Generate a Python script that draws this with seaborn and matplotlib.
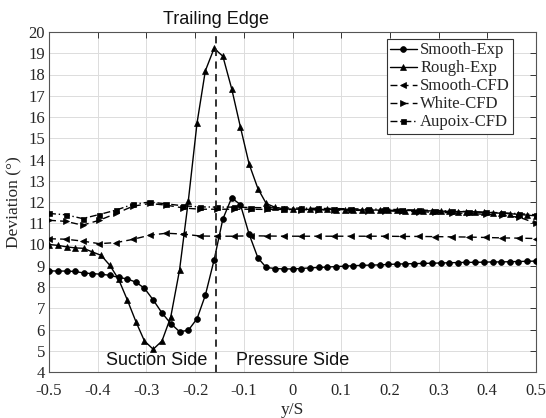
import numpy as np
import pandas as pd
import matplotlib
matplotlib.use("Agg")
import matplotlib.pyplot as plt
import seaborn as sns

# ---------------- data ----------------
x_exp = [-0.500, -0.482, -0.464, -0.446, -0.429, -0.411, -0.393, -0.375, -0.357, -0.339,
         -0.321, -0.304, -0.286, -0.268, -0.250, -0.232, -0.214, -0.196, -0.179, -0.161,
         -0.143, -0.125, -0.107, -0.089, -0.071, -0.054, -0.036, -0.018, 0.000, 0.018,
         0.036, 0.054, 0.071, 0.089, 0.107, 0.125, 0.143, 0.161, 0.179, 0.196,
         0.214, 0.232, 0.250, 0.268, 0.286, 0.304, 0.321, 0.339, 0.357, 0.375,
         0.393, 0.411, 0.429, 0.446, 0.464, 0.482, 0.500]

smooth_exp = [8.76, 8.75, 8.75, 8.73, 8.66, 8.63, 8.60, 8.55, 8.45, 8.38,
              8.22, 7.94, 7.39, 6.78, 6.28, 5.90, 5.96, 6.51, 7.61, 9.27,
              11.20, 12.19, 11.88, 10.48, 9.37, 8.92, 8.87, 8.85, 8.85, 8.87,
              8.90, 8.92, 8.94, 8.96, 8.98, 9.00, 9.02, 9.03, 9.04, 9.06,
              9.08, 9.09, 9.10, 9.11, 9.12, 9.13, 9.14, 9.15, 9.16, 9.16,
              9.17, 9.18, 9.18, 9.19, 9.20, 9.21, 9.22]

rough_exp = [10.00, 9.96, 9.89, 9.84, 9.82, 9.65, 9.49, 9.02, 8.36, 7.38,
             6.34, 5.46, 5.07, 5.46, 6.59, 8.79, 12.04, 15.72, 18.17, 19.23,
             18.86, 17.34, 15.53, 13.78, 12.63, 11.93, 11.75, 11.68, 11.66, 11.66,
             11.65, 11.65, 11.65, 11.64, 11.64, 11.63, 11.63, 11.62, 11.62, 11.61,
             11.61, 11.60, 11.60, 11.59, 11.58, 11.57, 11.56, 11.55, 11.54, 11.53,
             11.51, 11.49, 11.47, 11.45, 11.42, 11.38, 11.35]

x_cfd = [-0.500, -0.466, -0.431, -0.397, -0.362, -0.328, -0.293, -0.259, -0.224, -0.190,
         -0.155, -0.121, -0.086, -0.052, -0.017, 0.017, 0.052, 0.086, 0.121, 0.155,
         0.190, 0.224, 0.259, 0.293, 0.328, 0.362, 0.397, 0.431, 0.466, 0.500]

smooth_cfd = [10.27, 10.25, 10.16, 10.04, 10.09, 10.24, 10.44, 10.53, 10.49, 10.40,
              10.39, 10.39, 10.41, 10.40, 10.39, 10.39, 10.39, 10.39, 10.39, 10.39,
              10.39, 10.38, 10.38, 10.37, 10.36, 10.35, 10.33, 10.31, 10.30, 10.28]

white_cfd = [11.14, 11.09, 10.91, 11.14, 11.46, 11.80, 11.93, 11.85, 11.72, 11.66,
             11.66, 11.66, 11.66, 11.65, 11.65, 11.64, 11.63, 11.62, 11.61, 11.60,
             11.58, 11.56, 11.54, 11.52, 11.49, 11.46, 11.42, 11.37, 11.28, 11.00]

aupoix_cfd = [11.46, 11.40, 11.22, 11.41, 11.62, 11.89, 12.00, 11.91, 11.82, 11.77,
              11.76, 11.76, 11.74, 11.73, 11.72, 11.71, 11.70, 11.69, 11.68, 11.67,
              11.66, 11.64, 11.62, 11.60, 11.57, 11.55, 11.52, 11.49, 11.45, 11.40]

trailing_edge_x = -0.157
x_ticks = [-0.5, -0.4, -0.3, -0.2, -0.1, 0, 0.1, 0.2, 0.3, 0.4, 0.5]
x_tick_labels = ["-0.5", "-0.4", "-0.3", "-0.2", "-0.1", "0", "0.1", "0.2", "0.3", "0.4", "0.5"]
y_ticks = list(range(4, 21))

# ---------------- plot ----------------
sns.set_style("white")
plt.rcParams["font.family"] = ["Liberation Serif", "DejaVu Serif"]
plt.rcParams["mathtext.fontset"] = "stix"

fig = plt.figure(figsize=(5.46, 4.18), dpi=100)
ax = fig.add_axes([49 / 546, 1 - 372 / 418, 487 / 546, 340 / 418])

series = [
    (x_exp, smooth_exp, "Smooth-Exp", "o", "-", 4.2),
    (x_exp, rough_exp, "Rough-Exp", "^", "-", 5.0),
    (x_cfd, smooth_cfd, "Smooth-CFD", "<", (0, (5, 3)), 5.0),
    (x_cfd, white_cfd, "White-CFD", ">", (0, (5, 3)), 5.0),
    (x_cfd, aupoix_cfd, "Aupoix-CFD", "s", (0, (5, 2, 1, 2)), 3.6),
]
for xs, ys, lab, mk, ls, ms in series:
    df = pd.DataFrame({"x": xs, "y": ys})
    sns.lineplot(data=df, x="x", y="y", ax=ax, color="black", marker=mk,
                 markersize=ms, markeredgecolor="black", markerfacecolor="black",
                 markeredgewidth=0.5, linestyle=ls, linewidth=1.0, label=lab,
                 sort=False, zorder=3)

ax.axvline(trailing_edge_x, color="#222222", linestyle=(0, (4, 3)), linewidth=1.3, zorder=4)

ax.set_xlim(-0.5, 0.5)
ax.set_ylim(4, 20)
ax.set_xticks(x_ticks)
ax.set_xticklabels(x_tick_labels)
ax.set_yticks(y_ticks)
ax.grid(True, color="#dcdcdc", linewidth=0.7)
ax.tick_params(direction="in", length=4, width=0.7, top=True, right=True,
               labelsize=12, colors="#333333", labelcolor="#262626")
ax.tick_params(axis="x", pad=8)
ax.tick_params(axis="y", pad=3)
for sp in ax.spines.values():
    sp.set_color("#555555")
    sp.set_linewidth(0.8)

ax.set_xlabel("y/S", fontsize=12.5, color="#262626", labelpad=2)
ax.set_ylabel("Deviation (°)", fontsize=12.5, color="#262626", labelpad=4)

sans = ["Liberation Sans", "DejaVu Sans"]
ax.text(trailing_edge_x, 1.012, "Trailing Edge", transform=ax.get_xaxis_transform(),
        ha="center", va="bottom", fontsize=13, family=sans, color="#111111")
ax.text(trailing_edge_x - 0.017, 4.12, "Suction Side", ha="right", va="bottom",
        fontsize=13, family=sans, color="#111111")
ax.text(trailing_edge_x + 0.04, 4.12, "Pressure Side", ha="left", va="bottom",
        fontsize=13, family=sans, color="#111111")

leg = ax.legend(loc="upper right", bbox_to_anchor=(0.953, 0.979), fontsize=12,
                frameon=True, fancybox=False, framealpha=1, edgecolor="#333333",
                handlelength=1.6, handletextpad=0.2, labelspacing=0.12,
                borderpad=0.2, borderaxespad=0)
leg.get_frame().set_linewidth(0.8)

fig.savefig("out.png", dpi=100)
